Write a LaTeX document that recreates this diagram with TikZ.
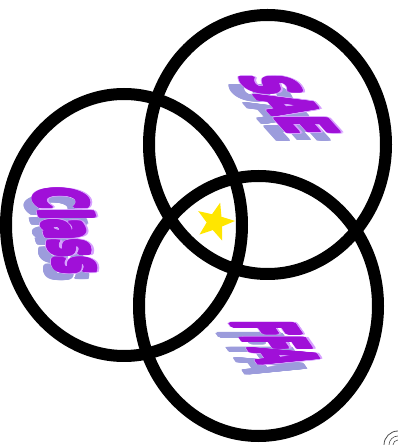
\documentclass[tikz,border=0pt]{standalone}
\usepackage{fontspec}
\setmainfont{DejaVu Sans}
\usepackage{contour}
\contourlength{1.2pt}
\usetikzlibrary{shapes.geometric}
\definecolor{wa}{HTML}{A010D8}
\definecolor{waout}{HTML}{D7A0FF}
\definecolor{shad}{HTML}{9C9CDC}
\definecolor{staryel}{HTML}{FFE600}
\begin{document}
\begin{tikzpicture}[x=1pt,y=1pt,
  ring/.style={draw=black,line width=12pt},
  wordart/.style={inner sep=0pt,font=\bfseries},
  waback/.style={wordart,text=waout},
  wafront/.style={wordart,text=wa},
  washad/.style={wordart,text=shad},
]
\useasboundingbox (0,0) rectangle (398,445);
\draw[ring] (124,220) ellipse [x radius=118, y radius=131];
\draw[ring] (267.5,300.5) ellipse [x radius=118.5, y radius=129.5];
\draw[ring] (258.5,139) ellipse [x radius=119.5, y radius=130];
% Class
\node[washad,xslant=-0.3,rotate=-90,xscale=0.42] (classs) at (62,207) {\fontsize{70}{70}\selectfont\contourlength{2.4pt}\contour{shad}{Class}};
\node[waback,xslant=-0.3,rotate=-90,xscale=0.42] (classb) at (70,214) {\fontsize{70}{70}\selectfont\contourlength{3.8pt}\contour{waout}{Class}};
\node[wafront,xslant=-0.3,rotate=-90,xscale=0.42] (class) at (70,214) {\fontsize{70}{70}\selectfont\contourlength{2.4pt}\contour{wa}{Class}};
% SAE
\node[washad,xslant=-0.9,rotate=-90,xscale=0.39] (saes) at (278,332) {\fontsize{70}{70}\selectfont\contourlength{2.2pt}\contour{shad}{SAE}};
\node[waback,xslant=-0.9,rotate=-90,xscale=0.39] (saeb) at (288,340) {\fontsize{70}{70}\selectfont\contourlength{3.6pt}\contour{waout}{SAE}};
\node[wafront,xslant=-0.9,rotate=-90,xscale=0.39] (sae) at (288,340) {\fontsize{70}{70}\selectfont\contourlength{2.2pt}\contour{wa}{SAE}};
% FFA
\node[washad,xslant=-0.7,rotate=-90,xscale=0.25] (ffas) at (262,92) {\fontsize{85}{85}\selectfont\contourlength{2.5pt}\contour{shad}{FFA}};
\node[waback,xslant=-0.7,rotate=-90,xscale=0.25] (ffab) at (275,102) {\fontsize{85}{85}\selectfont\contourlength{4pt}\contour{waout}{FFA}};
\node[wafront,xslant=-0.7,rotate=-90,xscale=0.25] (ffa) at (275,102) {\fontsize{85}{85}\selectfont\contourlength{2.5pt}\contour{wa}{FFA}};
% star
\node[star,star points=5,star point ratio=2.4,fill=staryel,minimum size=40pt,inner sep=0pt,rotate=-15] (star) at (215,223) {};
% corner doodle
\draw[black!70,line width=0.8pt] (384,0) arc[start angle=180,end angle=90,radius=14];
\draw[black!70,line width=0.6pt] (389,0) arc[start angle=180,end angle=90,radius=9];
\draw[black!70,line width=0.6pt] (393,0) arc[start angle=180,end angle=90,radius=5];
\end{tikzpicture}
\end{document}
